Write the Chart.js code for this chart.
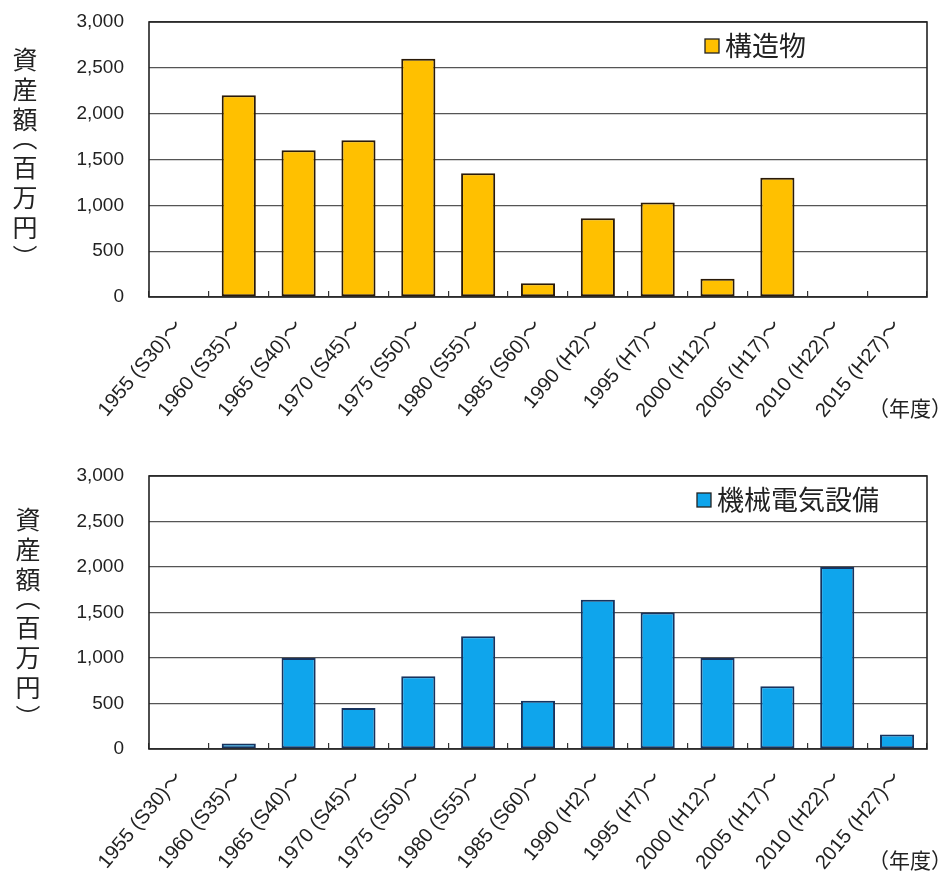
<!DOCTYPE html>
<html lang="ja">
<head>
<meta charset="utf-8">
<title>資産額</title>
<script src="https://cdn.jsdelivr.net/npm/chart.js@4.4.1/dist/chart.umd.min.js"></script>
<style>
  html, body { margin: 0; padding: 0; background: #fff; }
  #wrap { position: relative; width: 946px; height: 873px; }
  canvas { position: absolute; left: 0; }
  .ytitle {
    position: absolute;
    writing-mode: vertical-rl;
    font: 25px/1 "Noto Sans CJK JP", sans-serif;
    font-feature-settings: "vhal";
    letter-spacing: 5px;
    color: #222;
    white-space: nowrap;
  }
</style>
</head>
<body>
<div id="wrap">
  <canvas id="structChart" width="946" height="440" style="top:0"></canvas>
  <canvas id="equipChart" width="946" height="433" style="top:440px"></canvas>
  <div class="ytitle" style="left:12px; top:47px"></div>
  <div class="ytitle" style="left:15px; top:507px"></div>
</div>
<script>
// 年度区分
const periods = [
  "1955 (S30)〜", "1960 (S35)〜", "1965 (S40)〜", "1970 (S45)〜",
  "1975 (S50)〜", "1980 (S55)〜", "1985 (S60)〜", "1990 (H2)〜",
  "1995 (H7)〜", "2000 (H12)〜", "2005 (H17)〜", "2010 (H22)〜", "2015 (H27)〜"
];

// 資産額（百万円）
const structureValues = [0, 2200, 1600, 1710, 2600, 1350, 150, 860, 1030, 200, 1300, 0, 0];
const equipmentValues = [0, 60, 1000, 450, 800, 1240, 530, 1640, 1500, 1000, 690, 2000, 160];

const yMax = 3000;
const yStep = 500;
const yTitle = "資産額（百万円）";
const xUnit = "（年度）";

document.querySelectorAll(".ytitle").forEach(el => { el.textContent = yTitle; });

const CJK = '"Noto Sans CJK JP", sans-serif';
Chart.defaults.font.family = '"Liberation Sans", "Noto Sans CJK JP", sans-serif';
Chart.defaults.color = "#222";

/* ---------- frame around the plot ---------- */
const plotFrame = {
  id: "plotFrame",
  afterDatasetsDraw(chart) {
    const { ctx, chartArea: a } = chart;
    ctx.save();
    ctx.strokeStyle = "#222";
    ctx.lineWidth = 1.6;
    ctx.strokeRect(a.left, a.top, a.right - a.left, a.bottom - a.top);
    ctx.restore();
  }
};

/* ---------- legend drawn inside the plot ---------- */
const innerLegend = {
  id: "innerLegend",
  afterDraw(chart, args, opts) {
    const { ctx, chartArea } = chart;
    const ds = chart.data.datasets[0];
    const y = chartArea.top + opts.dy;
    ctx.save();
    ctx.fillStyle = ds.backgroundColor;
    ctx.fillRect(opts.x, y - 7, 14, 14);
    ctx.strokeStyle = "#222";
    ctx.lineWidth = 1.3;
    ctx.strokeRect(opts.x, y - 7, 14, 14);
    ctx.font = "27px " + CJK;
    ctx.textBaseline = "middle";
    ctx.fillStyle = "#222";
    ctx.fillText(ds.label, opts.x + 20, y);
    ctx.restore();
  }
};

/* ---------- unit under the category axis ---------- */
const unitLabel = {
  id: "unitLabel",
  afterDraw(chart) {
    const { ctx, chartArea } = chart;
    ctx.save();
    ctx.fillStyle = "#222";
    ctx.font = "21px " + CJK;
    ctx.textAlign = "right";
    ctx.textBaseline = "middle";
    ctx.fillText(xUnit, chart.width + 6, chartArea.bottom + 111);
    ctx.restore();
  }
};

function makeChart(id, label, values, fill, edge, layout) {
  return new Chart(document.getElementById(id), {
    type: "bar",
    data: {
      labels: periods,
      datasets: [{
        label: label,
        data: values,
        backgroundColor: fill,
        borderColor: edge,
        borderWidth: 2,
        borderSkipped: false,
        categoryPercentage: 1,
        barPercentage: 0.57
      }]
    },
    options: {
      responsive: false,
      animation: false,
      layout: { padding: { left: 0, right: 19, top: layout.top, bottom: 0 } },
      plugins: {
        legend: { display: false },
        tooltip: { enabled: false },
        innerLegend: { x: layout.legendX, dy: 24 }
      },
      scales: {
        x: {
          grid: {
            offset: true,
            drawOnChartArea: false,
            drawTicks: true,
            tickLength: -6,
            color: "#333",
            lineWidth: 1.2
          },
          border: { display: false },
          ticks: {
            maxRotation: 50,
            minRotation: 50,
            padding: 24,
            font: { size: 20 },
            color: "#222"
          },
          afterFit: s => {
            s.height = layout.xHeight;
            s.paddingLeft = 0;
            s.paddingRight = 0;
          }
        },
        y: {
          min: 0,
          max: yMax,
          grid: { color: "#555", lineWidth: 1.3, drawTicks: false },
          border: { display: false },
          ticks: {
            stepSize: yStep,
            padding: 25,
            font: { size: 19 },
            color: "#222",
            callback: v => v.toLocaleString("en-US")
          },
          afterFit: s => {
            s.width = 149;
            s.paddingTop = 0;
            s.paddingBottom = 0;
          }
        }
      }
    },
    plugins: [plotFrame, innerLegend, unitLabel]
  });
}

makeChart("structChart", "構造物", structureValues, "#FFC000", "#2a1a08",
  { top: 22, xHeight: 143, legendX: 705 });
makeChart("equipChart", "機械電気設備", equipmentValues, "#0FA5EC", "#17335e",
  { top: 36, xHeight: 124, legendX: 697 });
</script>
</body>
</html>
